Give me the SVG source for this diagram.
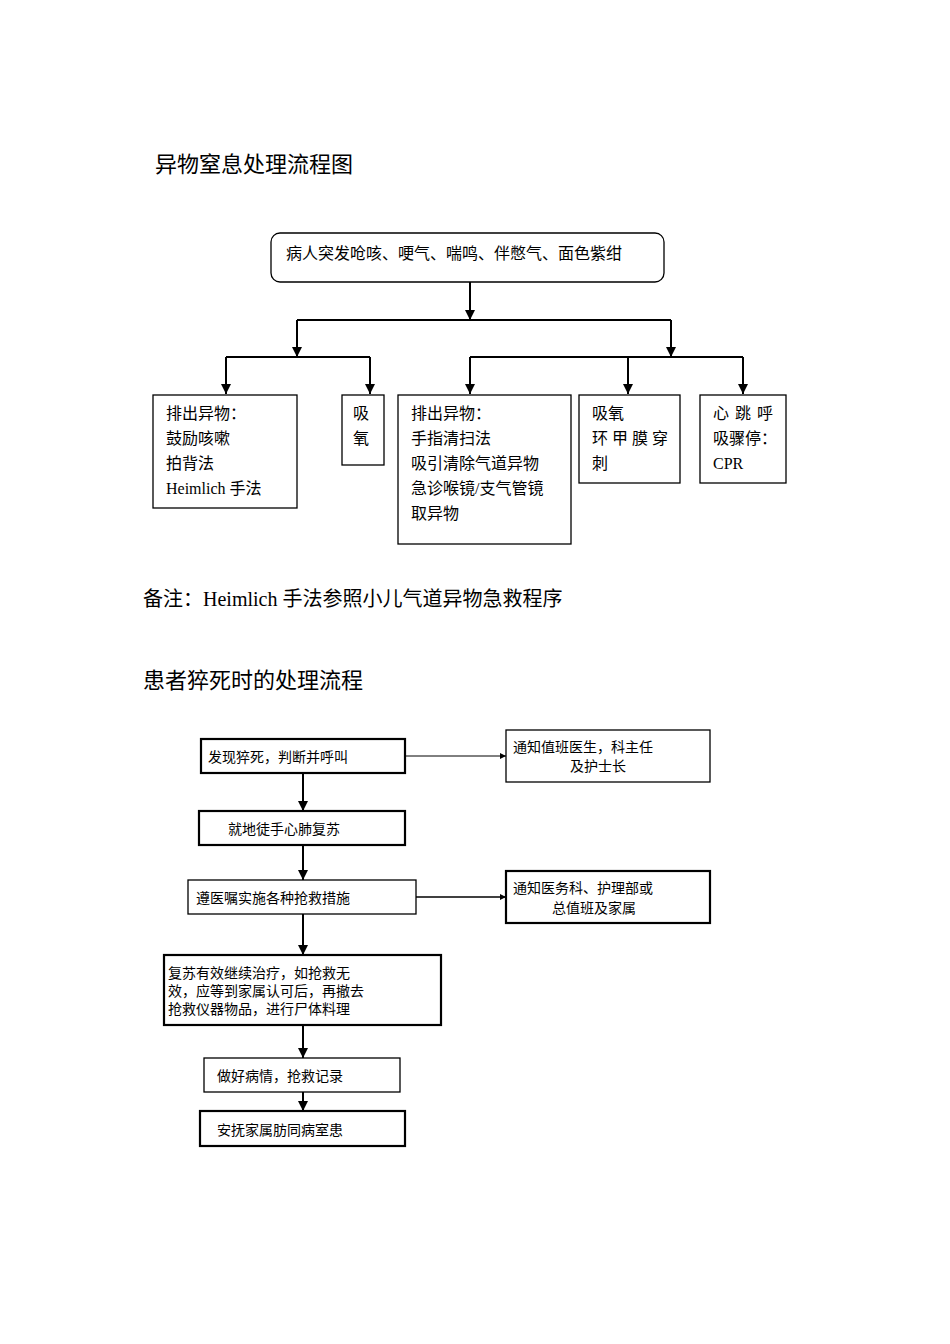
<svg xmlns="http://www.w3.org/2000/svg" width="950" height="1344" viewBox="0 0 950 1344">
<style>
text{font-family:"Liberation Serif","Noto Sans CJK SC",serif;fill:#000}
.t{font-size:16px}.s{font-size:14px}.h{font-size:22px}
.b{fill:#fff;stroke:#000;stroke-width:1.3}
.k{fill:#fff;stroke:#000;stroke-width:2.2}
.c{stroke:#000;stroke-width:2;fill:none}
</style>
<defs><marker id="a" viewBox="0 0 10 10" refX="10" refY="5" markerWidth="6" markerHeight="6" orient="auto" markerUnits="userSpaceOnUse"><path d="M0,0L10,5L0,10z" fill="#000"/></marker>
<marker id="m" viewBox="0 0 10 10" refX="10" refY="5" markerWidth="5" markerHeight="5" orient="auto"><path d="M0,0L10,5L0,10z" fill="#000"/></marker></defs>
<rect width="950" height="1344" fill="#fff"/>
<text class="h" x="155" y="172">异物窒息处理流程图</text>
<text x="143" y="606" style="font-size:20px">备注：Heimlich 手法参照小儿气道异物急救程序</text>
<text class="h" x="143" y="688">患者猝死时的处理流程</text>
<g id="connectors">
<path class="c" marker-end="url(#m)" d="M470,282V320"/>
<path class="c" d="M297,320H671"/>
<path class="c" marker-end="url(#m)" d="M297,320V357"/>
<path class="c" marker-end="url(#m)" d="M671,320V357"/>
<path class="c" d="M226,357H370"/>
<path class="c" marker-end="url(#m)" d="M226,357V394"/>
<path class="c" marker-end="url(#m)" d="M370,357V394"/>
<path class="c" d="M470,357H743"/>
<path class="c" marker-end="url(#m)" d="M470,357V394"/>
<path class="c" marker-end="url(#m)" d="M628,357V394"/>
<path class="c" marker-end="url(#m)" d="M743,357V394"/>
<path stroke="#000" stroke-width="1" marker-end="url(#a)" d="M405,756H506"/>
<path stroke="#000" stroke-width="1.5" marker-end="url(#a)" d="M416,897H506"/>
<path class="c" marker-end="url(#m)" d="M303,773V811"/>
<path class="c" marker-end="url(#m)" d="M303,845V880"/>
<path class="c" marker-end="url(#m)" d="M303,914V955"/>
<path class="c" marker-end="url(#m)" d="M303,1025V1058"/>
<path class="c" marker-end="url(#m)" d="M303,1092V1111"/>
</g>
<g id="n0"><rect class="b" x="271" y="233" width="393" height="49" rx="9"/><text class="t" x="286" y="259">病人突发呛咳、哽气、喘鸣、伴憋气、面色紫绀</text></g>
<g id="n1"><rect class="b" x="153" y="395" width="144" height="113"/><text class="t" x="166" y="419">排出异物：</text><text class="t" x="166" y="444">鼓励咳嗽</text><text class="t" x="166" y="469">拍背法</text><text class="t" x="166" y="494">Heimlich 手法</text></g>
<g id="n2"><rect class="b" x="342" y="395" width="42" height="70"/><text class="t" x="353" y="419">吸</text><text class="t" x="353" y="444">氧</text></g>
<g id="n3"><rect class="b" x="398" y="395" width="173" height="149"/><text class="t" x="411" y="419">排出异物：</text><text class="t" x="411" y="444">手指清扫法</text><text class="t" x="411" y="469">吸引清除气道异物</text><text class="t" x="411" y="494">急诊喉镜/支气管镜</text><text class="t" x="411" y="519">取异物</text></g>
<g id="n4"><rect class="b" x="579" y="395" width="101" height="88"/><text class="t" x="592" y="419">吸氧</text><text class="t" x="592" y="444" textLength="76">环甲膜穿</text><text class="t" x="592" y="469">刺</text></g>
<g id="n5"><rect class="b" x="700" y="395" width="86" height="88"/><text class="t" x="713" y="419" textLength="60">心跳呼</text><text class="t" x="713" y="444">吸骤停：</text><text class="t" x="713" y="469">CPR</text></g>
<g id="p1"><rect class="k" x="201" y="739" width="204" height="34"/><text class="s" x="208" y="762">发现猝死，判断并呼叫</text></g>
<g id="p2"><rect class="b" x="506" y="730" width="204" height="52"/><text class="s" x="513" y="752">通知值班医生，科主任</text><text class="s" x="570" y="771">及护士长</text></g>
<g id="p3"><rect class="k" x="199" y="811" width="206" height="34"/><text class="s" x="228" y="834">就地徒手心肺复苏</text></g>
<g id="p4"><rect class="b" x="188" y="880" width="228" height="34"/><text class="s" x="196" y="903">遵医嘱实施各种抢救措施</text></g>
<g id="p5"><rect class="k" x="506" y="871" width="204" height="52"/><text class="s" x="513" y="893">通知医务科、护理部或</text><text class="s" x="552" y="913">总值班及家属</text></g>
<g id="p6"><rect class="k" x="164" y="955" width="277" height="70"/><text class="s" x="168" y="978">复苏有效继续治疗，如抢救无</text><text class="s" x="168" y="996">效，应等到家属认可后，再撤去</text><text class="s" x="168" y="1014">抢救仪器物品，进行尸体料理</text></g>
<g id="p7"><rect class="b" x="204" y="1058" width="196" height="34"/><text class="s" x="217" y="1081">做好病情，抢救记录</text></g>
<g id="p8"><rect class="k" x="200" y="1111" width="205" height="35"/><text class="s" x="217" y="1135">安抚家属肪同病室患</text></g>
</svg>
